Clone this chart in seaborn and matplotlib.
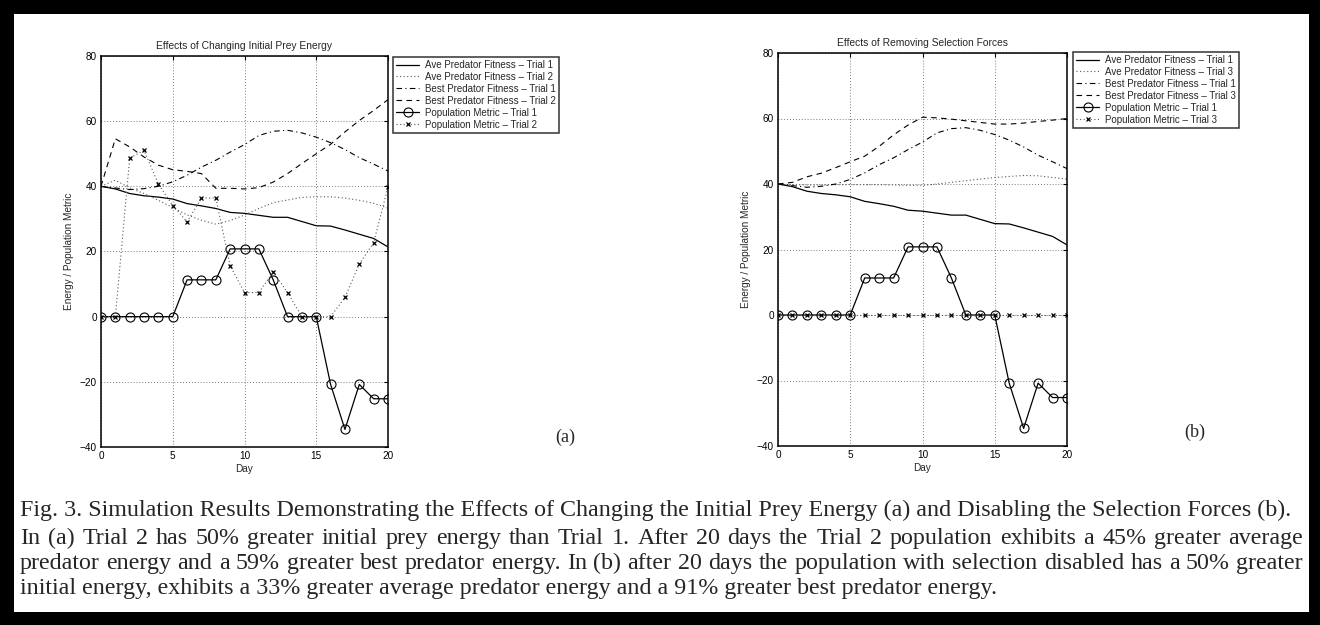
import matplotlib
matplotlib.use("Agg")
import matplotlib.pyplot as plt
import seaborn as sns
from matplotlib.patches import Rectangle

# ---- donnees ----
days = list(range(21))

ave_t1 = [40, 39.2, 37.8, 37.1, 36.7, 36.1, 34.7, 34.0, 33.2, 32.0, 31.7,
          31.1, 30.5, 30.5, 29.2, 27.9, 27.8, 26.6, 25.3, 24.0, 21.4]
ave_t2 = [40, 41.9, 39.5, 37.8, 35.7, 33.5, 31.2, 29.6, 28.4, 29.5, 31.2,
          33.2, 35.0, 35.8, 36.6, 36.8, 36.8, 36.4, 35.7, 34.8, 33.3]
ave_t3 = [40, 39.8, 39.7, 39.7, 39.8, 39.8, 39.8, 39.8, 39.7, 39.6, 39.6,
          40.0, 40.5, 41.0, 41.5, 42.0, 42.3, 42.6, 42.5, 42.0, 41.5]
best_t1 = [40, 39.5, 39.0, 39.3, 40.0, 41.4, 43.4, 45.9, 48.0, 50.5, 52.8,
           55.6, 56.9, 57.2, 56.4, 55.1, 53.4, 51.3, 48.8, 46.8, 44.7]
best_t2 = [40, 54.6, 52.1, 49.0, 46.5, 45.1, 44.6, 43.9, 39.4, 39.4, 39.2,
           39.6, 41.3, 43.9, 47.0, 50.0, 52.9, 56.7, 60.2, 63.3, 66.6]
best_t3 = [40, 40.5, 42.2, 43.3, 45.0, 46.8, 48.5, 51.5, 55.0, 58.0, 60.4,
           60.2, 59.8, 59.3, 58.8, 58.3, 58.3, 58.6, 59.1, 59.5, 60.0]
pop_t1 = [0, 0, 0, 0, 0, 0, 11.3, 11.3, 11.3, 20.8, 20.8,
          20.8, 11.3, 0, 0, 0, -20.8, -34.6, -20.8, -25.2, -25.2]
pop_t2 = [0, 0, 48.7, 51.0, 40.7, 34.1, 29.1, 36.4, 36.4, 15.6, 7.4,
          7.4, 13.8, 7.4, 0, 0, 0, 5.9, 16.2, 22.7, 39.8]
pop_t3 = [0] * 21

xticks = [0, 5, 10, 15, 20]
yticks = [-40, -20, 0, 20, 40, 60, 80]

caption_1 = ("Fig. 3. Simulation Results Demonstrating the Effects of Changing the "
             "Initial Prey Energy (a) and Disabling the Selection Forces (b).")
caption_2 = ("In (a) Trial 2 has 50% greater initial prey energy than Trial 1. After 20 days "
             "the Trial 2 population exhibits a 45% greater average")
caption_3 = ("predator energy and a 59% greater best predator energy. In (b) after 20 days "
             "the population with selection disabled has a 50% greater")
caption_4 = "initial energy, exhibits a 33% greater average predator energy and a 91% greater best predator energy."

sns.set_style("white")
plt.rcParams['font.family'] = ['Liberation Sans', 'DejaVu Sans']

W, H = 1320, 625
fig = plt.figure(figsize=(W / 100, H / 100), dpi=100)
fig.patch.set_facecolor('black')
# cadre blanc interieur (bordure noire epaisse)
fig.patches.append(Rectangle((14 / W, 13 / H), (W - 25) / W, (H - 27) / H,
                             transform=fig.transFigure, facecolor='white',
                             edgecolor='none', zorder=-10))

styles = {
    'solid': dict(color='k', linestyle='-', linewidth=0.9),
    'dot': dict(color='0.35', linestyle=(0, (1, 2.2)), linewidth=0.8),
    'dashdot': dict(color='k', linestyle=(0, (5, 3, 1, 3)), linewidth=0.8),
    'dash': dict(color='k', linestyle=(0, (5, 4)), linewidth=0.8),
    'circ': dict(color='k', linestyle='-', linewidth=0.9, marker='o', markersize=6.5,
                 mfc='none', mec='k', mew=0.8),
    'cross': dict(color='0.35', linestyle=(0, (1, 2.2)), linewidth=0.8, marker='x',
                  markersize=3.5, mec='k', mew=0.9),
}


def panel(ax, series, title, leg_xy):
    for label, vals, st in series:
        sns.lineplot(x=days, y=vals, ax=ax, label=label, **styles[st])
    ax.set_xlim(0, 20)
    ax.set_ylim(-40, 80)
    ax.set_xticks(xticks)
    ax.set_yticks(yticks)
    ax.set_yticklabels([str(v).replace('-', '\u2212') for v in yticks])
    ax.grid(True, linestyle=(0, (1, 2.5)), color='0.3', linewidth=0.6)
    ax.set_axisbelow(True)
    ax.tick_params(direction='in', length=3, labelsize=7.2, top=True, right=True,
                   colors='k', pad=3)
    for sp in ax.spines.values():
        sp.set_color('k')
        sp.set_linewidth(1.1)
    ax.set_title(title, fontsize=7.4, pad=5)
    ax.set_xlabel('Day', fontsize=7.2, labelpad=2)
    ax.set_ylabel('Energy / Population Metric', fontsize=7.2, labelpad=4)
    leg = ax.legend(loc='upper left', bbox_to_anchor=leg_xy, bbox_transform=fig.transFigure,
                    fontsize=7, frameon=True, fancybox=False, borderpad=0.3,
                    labelspacing=0.2, handlelength=2.4, handletextpad=0.6,
                    borderaxespad=0)
    leg.get_frame().set_edgecolor('k')
    leg.get_frame().set_linewidth(1.1)


ax_a = fig.add_axes([101 / W, 1 - 447 / H, 287 / W, 391 / H])
panel(ax_a, [
    ('Ave Predator Fitness \u2013 Trial 1', ave_t1, 'solid'),
    ('Ave Predator Fitness \u2013 Trial 2', ave_t2, 'dot'),
    ('Best Predator Fitness \u2013 Trial 1', best_t1, 'dashdot'),
    ('Best Predator Fitness \u2013 Trial 2', best_t2, 'dash'),
    ('Population Metric \u2013 Trial 1', pop_t1, 'circ'),
    ('Population Metric \u2013 Trial 2', pop_t2, 'cross'),
], 'Effects of Changing Initial Prey Energy', (393 / W, 1 - 57 / H))

ax_b = fig.add_axes([778 / W, 1 - 446 / H, 289 / W, 393 / H])
panel(ax_b, [
    ('Ave Predator Fitness \u2013 Trial 1', ave_t1, 'solid'),
    ('Ave Predator Fitness \u2013 Trial 3', ave_t3, 'dot'),
    ('Best Predator Fitness \u2013 Trial 1', best_t1, 'dashdot'),
    ('Best Predator Fitness \u2013 Trial 3', best_t3, 'dash'),
    ('Population Metric \u2013 Trial 1', pop_t1, 'circ'),
    ('Population Metric \u2013 Trial 3', pop_t3, 'cross'),
], 'Effects of Removing Selection Forces', (1073 / W, 1 - 52 / H))

serif = ['Liberation Serif', 'DejaVu Serif']
fig.text(565 / W, 1 - 437 / H, '(a)', family=serif, fontsize=13, ha='center', va='center')
fig.text(1195 / W, 1 - 432 / H, '(b)', family=serif, fontsize=13, ha='center', va='center')

# taille de police de la legende ajustee a la largeur de la premiere ligne
renderer = fig.canvas.get_renderer()
probe = fig.text(0, 0, caption_1, family=serif, fontsize=12)
fs = 12 * 1270 / probe.get_window_extent(renderer).width
probe.remove()

x0, x1 = 20, 1303


def justify(text, y):
    words = text.split(' ')
    objs = [fig.text(0, 1 - y / H, w, family=serif, fontsize=fs, va='baseline') for w in words]
    widths = [o.get_window_extent(renderer).width for o in objs]
    gap = (x1 - x0 - sum(widths)) / (len(words) - 1)
    x = x0
    for o, w in zip(objs, widths):
        o.set_x(x / W)
        x += w + gap


fig.text(x0 / W, 1 - 516 / H, caption_1, family=serif, fontsize=fs, va='baseline')
justify(caption_2, 544)
justify(caption_3, 569)
fig.text(x0 / W, 1 - 594 / H, caption_4, family=serif, fontsize=fs, va='baseline')

fig.savefig('out.png', dpi=100, facecolor=fig.get_facecolor())
